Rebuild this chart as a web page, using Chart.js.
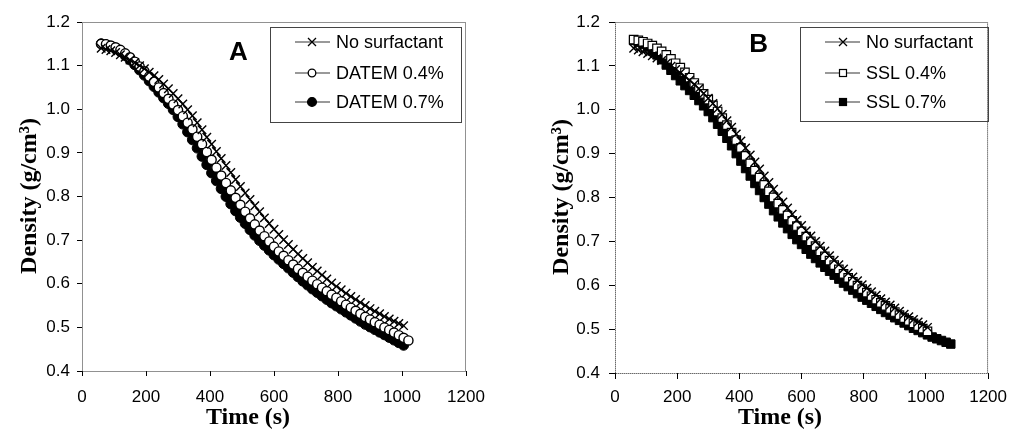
<!DOCTYPE html>
<html>
<head>
<meta charset="utf-8">
<script src="https://cdn.jsdelivr.net/npm/chart.js@4.4.1/dist/chart.umd.min.js"></script>
<style>
  html, body { margin: 0; padding: 0; background: #fff; }
  #wrap { position: relative; width: 1015px; height: 429px; overflow: hidden; }
  canvas { position: absolute; top: 0; }
  #chartA { left: 0; }
  #chartB { left: 507px; }
</style>
</head>
<body>
<div id="wrap">
  <canvas id="chartA" width="507" height="429"></canvas>
  <canvas id="chartB" width="508" height="429"></canvas>
</div>
<script>
// time points (s)
const timeMain = [60, 75, 90, 105, 120, 135, 150, 165, 180, 195, 210, 225, 240, 255, 270, 285, 300, 315, 330, 345,
  360, 375, 390, 405, 420, 435, 450, 465, 480, 495, 510, 525, 540, 555, 570, 585, 600, 615, 630, 645,
  660, 675, 690, 705, 720, 735, 750, 765, 780, 795, 810, 825, 840, 855, 870, 885, 900, 915, 930, 945,
  960, 975, 990, 1005];
const timeTail = [1020, 1035, 1050, 1065, 1080];

const namesA = ["No surfactant", "DATEM 0.4%", "DATEM 0.7%"];
const namesB = ["No surfactant", "SSL 0.4%", "SSL 0.7%"];

// panel A densities (g/cm3)
const noSurfA = [1.140, 1.137, 1.134, 1.130, 1.125, 1.119, 1.113, 1.107, 1.100, 1.093,
  1.085, 1.077, 1.068, 1.058, 1.047, 1.036, 1.024, 1.012, 0.999, 0.985,
  0.969, 0.953, 0.936, 0.920, 0.903, 0.887, 0.871, 0.855, 0.839, 0.823,
  0.808, 0.793, 0.779, 0.765, 0.751, 0.738, 0.725, 0.713, 0.701, 0.690,
  0.679, 0.668, 0.658, 0.648, 0.638, 0.629, 0.620, 0.611, 0.602, 0.594,
  0.586, 0.578, 0.571, 0.564, 0.557, 0.550, 0.543, 0.537, 0.531, 0.525,
  0.519, 0.514, 0.509, 0.504];
const datem04 = [1.150, 1.149, 1.146, 1.142, 1.136, 1.128, 1.119, 1.109, 1.098, 1.087,
  1.075, 1.063, 1.050, 1.037, 1.024, 1.011, 0.998, 0.984, 0.969, 0.954,
  0.937, 0.920, 0.902, 0.884, 0.866, 0.848, 0.831, 0.814, 0.797, 0.781,
  0.765, 0.750, 0.736, 0.722, 0.709, 0.697, 0.685, 0.674, 0.664, 0.654,
  0.644, 0.634, 0.625, 0.616, 0.607, 0.599, 0.591, 0.583, 0.575, 0.568,
  0.560, 0.552, 0.545, 0.538, 0.531, 0.524, 0.518, 0.512, 0.506, 0.500,
  0.494, 0.488, 0.482, 0.476, 0.470];
const datem07 = [1.150, 1.148, 1.144, 1.139, 1.132, 1.123, 1.113, 1.102, 1.090, 1.078,
  1.065, 1.052, 1.039, 1.026, 1.013, 0.999, 0.983, 0.966, 0.948, 0.930,
  0.911, 0.892, 0.873, 0.854, 0.836, 0.818, 0.800, 0.783, 0.767, 0.752,
  0.738, 0.724, 0.711, 0.699, 0.688, 0.677, 0.666, 0.656, 0.646, 0.636,
  0.626, 0.616, 0.606, 0.597, 0.588, 0.580, 0.572, 0.564, 0.556, 0.549,
  0.542, 0.535, 0.528, 0.521, 0.514, 0.507, 0.501, 0.495, 0.489, 0.483,
  0.477, 0.471, 0.465, 0.459];

// panel B densities (g/cm3)
const noSurfB = [1.140, 1.136, 1.132, 1.128, 1.123, 1.118, 1.112, 1.106, 1.099, 1.092,
  1.084, 1.076, 1.067, 1.058, 1.048, 1.037, 1.026, 1.014, 1.002, 0.989,
  0.975, 0.960, 0.945, 0.929, 0.913, 0.897, 0.881, 0.865, 0.849, 0.834,
  0.819, 0.804, 0.790, 0.776, 0.762, 0.749, 0.736, 0.724, 0.712, 0.700,
  0.689, 0.678, 0.667, 0.657, 0.647, 0.637, 0.628, 0.619, 0.610, 0.601,
  0.593, 0.585, 0.577, 0.569, 0.562, 0.555, 0.548, 0.541, 0.534, 0.528,
  0.522, 0.516, 0.510, 0.504];
const ssl04 = [1.160, 1.158, 1.155, 1.151, 1.146, 1.140, 1.133, 1.125, 1.116, 1.106,
  1.096, 1.085, 1.073, 1.061, 1.049, 1.036, 1.023, 1.010, 0.996, 0.981,
  0.965, 0.948, 0.931, 0.913, 0.895, 0.878, 0.861, 0.845, 0.829, 0.814,
  0.800, 0.786, 0.772, 0.759, 0.747, 0.735, 0.723, 0.711, 0.700, 0.689,
  0.677, 0.666, 0.656, 0.646, 0.636, 0.626, 0.617, 0.608, 0.599, 0.591,
  0.583, 0.575, 0.567, 0.560, 0.553, 0.546, 0.539, 0.532, 0.525, 0.519,
  0.513, 0.507, 0.501, 0.495];
const ssl07 = [1.158, 1.154, 1.149, 1.143, 1.134, 1.125, 1.114, 1.102, 1.090, 1.078,
  1.066, 1.055, 1.044, 1.033, 1.021, 1.009, 0.996, 0.982, 0.967, 0.951,
  0.935, 0.918, 0.900, 0.883, 0.866, 0.849, 0.832, 0.816, 0.800, 0.785,
  0.770, 0.756, 0.742, 0.729, 0.716, 0.704, 0.693, 0.682, 0.671, 0.661,
  0.651, 0.641, 0.632, 0.623, 0.614, 0.605, 0.597, 0.589, 0.581, 0.573,
  0.566, 0.559, 0.552, 0.545, 0.538, 0.532, 0.526, 0.520, 0.514, 0.508,
  0.502, 0.497, 0.492, 0.487, 0.482, 0.478, 0.474, 0.470, 0.466];

function pts(t, v) {
  return v.map((y, i) => ({ x: t[i], y: y }));
}

const marks = {
  cross: { pointStyle: "crossRot", pointRadius: 6, pointBackgroundColor: "#000", pointBorderColor: "#000", pointBorderWidth: 1.4 },
  circleOpen: { pointStyle: "circle", pointRadius: 4.6, pointBackgroundColor: "#fff", pointBorderColor: "#000", pointBorderWidth: 1.4 },
  circleFill: { pointStyle: "circle", pointRadius: 5, pointBackgroundColor: "#000", pointBorderColor: "#000", pointBorderWidth: 1 },
  rectOpen: { pointStyle: "rect", pointRadius: 6, pointBackgroundColor: "#fff", pointBorderColor: "#000", pointBorderWidth: 1.2 },
  rectFill: { pointStyle: "rect", pointRadius: 6, pointBackgroundColor: "#000", pointBorderColor: "#000", pointBorderWidth: 1 },
};

function series(label, data, mark) {
  return Object.assign({
    label: label,
    data: data,
    borderColor: "#000",
    borderWidth: 1.2,
    showLine: true,
    markKind: mark,
  }, marks[mark]);
}

// draw a legend sample marker by hand
function drawMark(ctx, kind, x, y) {
  ctx.save();
  ctx.strokeStyle = "#000";
  ctx.lineWidth = 1.3;
  if (kind === "cross") {
    const d = 4;
    ctx.beginPath();
    ctx.moveTo(x - d, y - d); ctx.lineTo(x + d, y + d);
    ctx.moveTo(x - d, y + d); ctx.lineTo(x + d, y - d);
    ctx.stroke();
  } else if (kind === "circleOpen" || kind === "circleFill") {
    ctx.beginPath();
    ctx.arc(x, y, kind === "circleFill" ? 4.4 : 3.8, 0, Math.PI * 2);
    ctx.fillStyle = kind === "circleFill" ? "#000" : "#fff";
    ctx.fill();
    ctx.stroke();
  } else {
    ctx.fillStyle = kind === "rectFill" ? "#000" : "#fff";
    ctx.fillRect(x - 3.5, y - 3.5, 7, 7);
    ctx.lineWidth = 1.2;
    ctx.strokeRect(x - 3.5, y - 3.5, 7, 7);
  }
  ctx.restore();
}

const decor = {
  id: "decor",
  afterDraw(chart, args, o) {
    const ctx = chart.ctx;
    const a = chart.chartArea;
    ctx.save();
    // plot frame
    ctx.setLineDash([1, 1]);
    ctx.strokeStyle = "#222";
    ctx.lineWidth = 1;
    ctx.strokeRect(a.left + 0.5, a.top + 0.5, a.right - a.left - 1, a.bottom - a.top);
    ctx.setLineDash([]);

    // legend box
    const b = o.box;
    ctx.strokeStyle = "#444";
    ctx.strokeRect(b[0] + 0.5, b[1] + 0.5, b[2], b[3]);
    chart.data.datasets.forEach((ds, i) => {
      const y = o.rows[i];
      ctx.strokeStyle = "#777";
      ctx.lineWidth = 1.4;
      ctx.beginPath();
      ctx.moveTo(o.line[0], y);
      ctx.lineTo(o.line[1], y);
      ctx.stroke();
      drawMark(ctx, ds.markKind, o.markX, y);
      ctx.fillStyle = "#000";
      ctx.font = "18px 'Liberation Sans', Arial, sans-serif";
      ctx.textAlign = "left";
      ctx.textBaseline = "middle";
      ctx.fillText(ds.label, o.textX, y + 1);
    });

    // panel letter
    ctx.font = "bold 26px 'Liberation Sans', Arial, sans-serif";
    ctx.textAlign = "center";
    ctx.textBaseline = "middle";
    ctx.fillStyle = "#000";
    ctx.fillText(o.letter, o.letterPos[0], o.letterPos[1]);

    // axis titles
    ctx.font = "bold 24px 'Liberation Serif', 'Times New Roman', serif";
    ctx.fillText("Time (s)", o.xTitle[0], o.xTitle[1]);
    ctx.translate(o.yTitle[0], o.yTitle[1]);
    ctx.rotate(-Math.PI / 2);
    ctx.fillText("Density (g/cm\u00B3)", 0, 0);
    ctx.restore();
  }
};

function makeChart(id, datasets, cfg) {
  const tickFont = { family: "'Liberation Sans', Arial, sans-serif", size: 17 };
  return new Chart(document.getElementById(id), {
    type: "scatter",
    data: { datasets: datasets },
    options: {
      responsive: false,
      animation: false,
      layout: { padding: { left: 0, right: cfg.padRight, top: cfg.padTop, bottom: 0 } },
      plugins: {
        legend: { display: false },
        tooltip: { enabled: false },
        decor: cfg.decor,
      },
      scales: {
        x: {
          type: "linear",
          min: 0,
          max: 1200,
          afterFit: (s) => { s.height = cfg.xHeight; },
          border: { display: false },
          grid: { drawOnChartArea: false, color: "#000", tickLength: cfg.xTickLen },
          ticks: { stepSize: 200, color: "#000", font: tickFont, padding: cfg.xPad, maxRotation: 0, callback: (v) => String(v) },
        },
        y: {
          type: "linear",
          min: 0.4,
          max: 1.2,
          afterFit: (s) => { s.width = cfg.yWidth; },
          border: { display: false },
          grid: { drawOnChartArea: false, color: "#000", tickLength: cfg.yTickLen },
          ticks: { stepSize: 0.1, color: "#000", font: tickFont, padding: cfg.yPad, callback: (v) => v.toFixed(1) },
        },
      },
    },
    plugins: [decor],
  });
}

makeChart("chartA", [
  series(namesA[0], pts(timeMain, noSurfA), "cross"),
  series(namesA[1], pts(timeMain.concat(timeTail.slice(0, 1)), datem04), "circleOpen"),
  series(namesA[2], pts(timeMain, datem07), "circleFill"),
], {
  padRight: 41, padTop: 22, xHeight: 58, yWidth: 82,
  xTickLen: 5, xPad: 11, yTickLen: 5, yPad: 7,
  decor: {
    box: [270, 27, 191, 95], line: [295, 330], markX: 312, textX: 336, rows: [42, 73, 102],
    letter: "A", letterPos: [238.5, 52.5],
    xTitle: [248, 418], yTitle: [30, 196],
  },
});

makeChart("chartB", [
  series(namesB[0], pts(timeMain, noSurfB), "cross"),
  series(namesB[1], pts(timeMain, ssl04), "rectOpen"),
  series(namesB[2], pts(timeMain.concat(timeTail), ssl07), "rectFill"),
], {
  padRight: 22, padTop: 22, xHeight: 56, yWidth: 108,
  xTickLen: 6, xPad: 8, yTickLen: 6, yPad: 9,
  decor: {
    box: [293, 27, 188, 94], line: [318, 353], markX: 336, textX: 359, rows: [42, 73, 102],
    letter: "B", letterPos: [251.7, 45],
    xTitle: [273, 418], yTitle: [55, 197],
  },
});
</script>
</body>
</html>
